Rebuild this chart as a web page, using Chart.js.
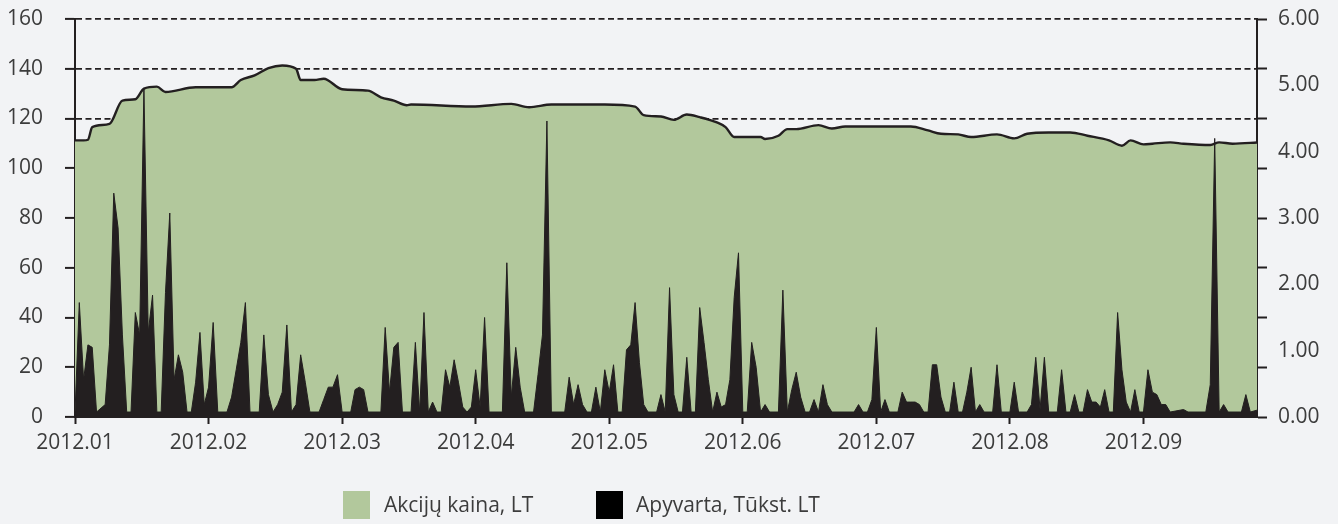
<!DOCTYPE html>
<html>
<head>
<meta charset="utf-8">
<script src="https://cdn.jsdelivr.net/npm/chart.js@4.4.1/dist/chart.umd.min.js"></script>
<style>
  html, body { margin:0; padding:0; background:#f2f3f5; }
  #wrap { position:relative; width:1338px; height:524px; overflow:hidden; }
  canvas { position:absolute; left:0; top:0; }
  .lg-box { position:absolute; width:27px; height:28px; }
  .lg-txt { position:absolute; font-family:'Open Sans', sans-serif; font-size:21px; line-height:28px; color:#3c3c3c; white-space:nowrap; }
</style>
</head>
<body>
<div id="wrap">
  <canvas id="c" width="1338" height="524"></canvas>
  <div class="lg-box" style="left:343px; top:491px; background:#b2c89c;"></div>
  <div class="lg-txt" style="left:384px; top:490px;">Akcijų kaina, LT</div>
  <div class="lg-box" style="left:596px; top:491px; background:#000000;"></div>
  <div class="lg-txt" style="left:636px; top:490px;">Apyvarta, Tūkst. LT</div>
</div>
<script>
// ---- Data ----
const monthLabels = ['2012.01','2012.02','2012.03','2012.04','2012.05','2012.06','2012.07','2012.08','2012.09'];
const monthDays = [31,29,31,30,31,30,31,31,30];

// Share price, LT (right axis) : [day, value] per month
const priceJan = [[1,4.17],[3,4.17],[4,4.18],[5,4.37],[9,4.42],[12,4.77],[15,4.79],[17,4.95],[20,4.98],[22,4.90],[29,4.97]];
const priceFeb = [[6,4.97],[8,5.08],[11,5.15],[14,5.26],[17,5.30],[20,5.25],[21,5.08],[24,5.08],[26,5.10]];
const priceMar = [[1,4.94],[7,4.92],[10,4.82],[13,4.77],[16,4.70],[17,4.71],[31,4.68]];
const priceApr = [[9,4.72],[13,4.67],[18,4.71],[30,4.71]];
const priceMay = [[7,4.68],[9,4.55],[13,4.53],[16,4.48],[19,4.56],[22,4.52],[26,4.44],[28,4.37],[30,4.22]];
const priceJun = [[5,4.22],[6,4.19],[9,4.24],[11,4.34],[13,4.34],[18,4.40],[21,4.35],[24,4.38]];
const priceJul = [[9,4.38],[13,4.32],[16,4.27],[20,4.26],[23,4.22],[29,4.26]];
const priceAug = [[2,4.20],[5,4.27],[10,4.29],[15,4.29],[19,4.24],[24,4.17],[27,4.09],[29,4.17]];
const priceSep = [[1,4.11],[3,4.12],[7,4.14],[10,4.12],[16,4.10],[18,4.14],[21,4.12],[27,4.14]];

// Turnover, thousand LT (left axis) : [day, value] per month
const volJan = [[1,2],[2,46],[3,15],[4,29],[5,28],[6,2],[8,5],[9,29],[10,90],[11,76],[12,33],[13,2],[14,2],[15,42],[16,33],[17,132],[18,34],[19,49],[20,2],[21,2],[22,50],[23,82],[24,15],[25,25],[26,18],[27,2],[28,2],[29,14],[30,34],[31,5]];
const volFeb = [[1,12],[2,38],[3,2],[5,2],[6,8],[7,19],[8,30],[9,46],[10,2],[12,2],[13,33],[14,9],[15,2],[16,5],[17,10],[18,37],[19,2],[20,5],[21,25],[22,14],[23,2],[25,2],[26,7],[27,12],[28,12],[29,17]];
const volMar = [[1,2],[3,2],[4,11],[5,12],[6,11],[7,2],[10,2],[11,36],[12,10],[13,28],[14,30],[15,2],[17,2],[18,30],[19,2],[20,42],[21,2],[22,6],[23,2],[24,2],[25,19],[26,12],[27,23],[28,14],[29,4],[30,2],[31,4]];
const volApr = [[1,19],[2,4],[3,40],[4,2],[7,2],[8,62],[9,8],[10,28],[11,12],[12,2],[14,2],[15,17],[16,33],[17,119],[18,2],[21,2],[22,16],[23,5],[24,13],[25,5],[26,2],[27,2],[28,12],[29,2],[30,19]];
const volMay = [[1,10],[2,21],[3,2],[4,2],[5,27],[6,29],[7,46],[8,22],[9,5],[10,2],[12,2],[13,9],[14,2],[15,52],[16,9],[17,2],[18,2],[19,24],[20,2],[21,2],[22,44],[23,30],[24,15],[25,2],[26,10],[27,4],[28,5],[29,15],[30,48],[31,66]];
const volJun = [[1,2],[2,2],[3,30],[4,20],[5,2],[6,5],[7,2],[9,2],[10,51],[11,2],[12,11],[13,18],[14,8],[15,2],[16,2],[17,7],[18,2],[19,13],[20,5],[21,2],[26,2],[27,5],[28,2],[29,2],[30,7]];
const volJul = [[1,36],[2,2],[3,7],[4,2],[6,2],[7,10],[8,6],[9,6],[10,6],[11,5],[12,2],[13,2],[14,21],[15,21],[16,8],[17,2],[18,2],[19,14],[20,2],[21,2],[22,10],[23,20],[24,2],[25,5],[26,2],[28,2],[29,21],[30,2]];
const volAug = [[1,2],[2,14],[3,2],[5,2],[6,5],[7,24],[8,3],[9,24],[10,2],[12,2],[13,19],[14,2],[15,2],[16,9],[17,2],[18,2],[19,11],[20,6],[21,6],[22,4],[23,11],[24,2],[25,2],[26,42],[27,19],[28,6],[29,2],[30,11],[31,2]];
const volSep = [[1,2],[2,19],[3,10],[4,9],[5,5],[6,5],[7,2],[10,3],[11,2],[15,2],[16,13],[17,112],[18,2],[19,5],[20,2],[23,2],[24,9],[25,2],[27,3]];

const priceMonths = [priceJan,priceFeb,priceMar,priceApr,priceMay,priceJun,priceJul,priceAug,priceSep];
const volMonths = [volJan,volFeb,volMar,volApr,volMay,volJun,volJul,volAug,volSep];

function toPoints(months) {
  const pts = [];
  months.forEach((arr, m) => {
    arr.forEach(([d, v]) => pts.push({ x: m + (d - 1) / monthDays[m], y: v }));
  });
  return pts;
}

const INK = '#231f20';
const TXT = '#3c3c3c';
const FONT = { family: "'Open Sans', sans-serif", size: 21 };
const isLeftGridPos = v => Math.abs(v / 0.75 - Math.round(v / 0.75)) < 1e-9;
const noOverhangV = (w) => s => { s.width = w; s.paddingTop = 0; s.paddingBottom = 0; };

new Chart(document.getElementById('c'), {
  type: 'line',
  data: {
    datasets: [
      {
        label: 'Apyvarta, Tūkst. LT',
        data: toPoints(volMonths),
        yAxisID: 'y',
        borderColor: INK,
        borderWidth: 1,
        backgroundColor: INK,
        fill: 'origin',
        pointRadius: 0,
        tension: 0,
        order: 0
      },
      {
        label: 'Akcijų kaina, LT',
        data: toPoints(priceMonths),
        yAxisID: 'y2',
        borderColor: INK,
        borderWidth: 2.4,
        backgroundColor: '#b2c89c',
        fill: 'origin',
        pointRadius: 0,
        cubicInterpolationMode: 'monotone',
        order: 1
      }
    ]
  },
  options: {
    responsive: false,
    animation: false,
    devicePixelRatio: 1,
    layout: { padding: { top: 19, bottom: 70, left: 0, right: 0 } },
    plugins: { legend: { display: false }, tooltip: { enabled: false } },
    scales: {
      x: {
        type: 'linear',
        min: 0,
        max: 8.85,
        afterBuildTicks: s => { s.ticks = monthLabels.map((_, i) => ({ value: i })); },
        afterFit: s => { s.height = 37; s.paddingLeft = 0; s.paddingRight = 0; },
        ticks: {
          callback: v => monthLabels[v],
          font: FONT, color: TXT, padding: 6, maxRotation: 0, autoSkip: false
        },
        grid: { drawOnChartArea: false, drawTicks: true, tickLength: 7, tickWidth: 2, tickColor: INK },
        border: { display: true, color: INK, width: 2 }
      },
      y: {
        position: 'left',
        min: 0,
        max: 160,
        afterFit: noOverhangV(75),
        ticks: { stepSize: 20, padding: 22, font: FONT, color: TXT },
        grid: { color: INK, lineWidth: 1.8, tickLength: 10, tickWidth: 2, tickColor: INK },
        border: { display: true, color: INK, width: 2, dash: [6, 3.5] }
      },
      y2: {
        position: 'right',
        min: 0,
        max: 6,
        afterBuildTicks: s => {
          s.ticks = [0,0.75,1,1.5,2,2.25,3,3.75,4,4.5,5,5.25,6].map(v => ({ value: v }));
        },
        afterFit: noOverhangV(81),
        ticks: {
          autoSkip: false, padding: 11, font: FONT, color: TXT,
          callback: v => Number.isInteger(v) ? v.toFixed(2) : ''
        },
        grid: {
          drawOnChartArea: false, drawTicks: true, tickLength: 10, tickWidth: 2,
          tickColor: ctx => (ctx.tick && isLeftGridPos(ctx.tick.value)) ? INK : 'rgba(0,0,0,0)'
        },
        border: { display: true, color: INK, width: 2 }
      }
    }
  }
});
</script>
</body>
</html>
